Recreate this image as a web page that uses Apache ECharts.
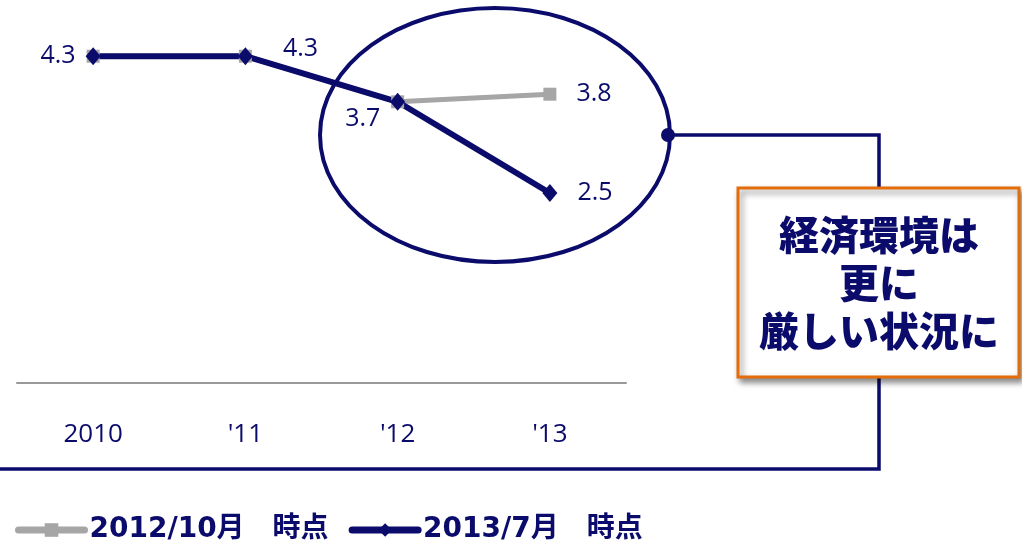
<!DOCTYPE html>
<html><head><meta charset="utf-8">
<script src="https://cdn.jsdelivr.net/npm/echarts@6/dist/echarts.min.js"></script>
<style>html,body{margin:0;padding:0;background:#fff}#c{width:1022px;height:553px}</style>
</head><body><div id="c"></div>
<script>
var categories = ['2010', "'11", "'12", "'13"];
var seriesOct2012 = [4.3, 4.3, 3.7, 3.8];
var seriesJul2013 = [4.3, 4.3, 3.7, 2.5];
var seriesNames = ['2012/10月\u3000時点', '2013/7月\u3000時点'];
var calloutLines = ['経済環境は', '更に', '厳しい状況に'];

var NAVY = '#0B0B6B';
var GREY = '#A6A6A6';
var labelPos = [
  {position: 'left', distance: 10},
  {position: [45, -11]},
  {position: [-45, 14]},
  {position: 'right', distance: 20}
];

var chart = echarts.init(document.getElementById('c'));
chart.setOption({
  animation: false,
  grid: {left: 17, right: 396, top: 3, bottom: 170},
  xAxis: {
    type: 'category', data: categories, boundaryGap: true,
    axisLine: {lineStyle: {color: '#999999', width: 2}},
    axisTick: {show: false},
    axisLabel: {color: NAVY, fontSize: 26, fontFamily: 'Open Sans', margin: 39}
  },
  yAxis: {type: 'value', min: 0, max: 5, show: false, splitLine: {show: false}},
  legend: {
    left: 15, top: 516, padding: 0, itemWidth: 66, itemHeight: 17, itemGap: 20,
    lineStyle: {width: 7, cap: 'round'},
    textStyle: {color: NAVY, fontSize: 28, fontWeight: 'bold', fontFamily: '"DejaVu Sans", "Noto Sans CJK JP"'},
    data: seriesNames
  },
  series: [
    {
      name: seriesNames[0], type: 'line', data: seriesOct2012.map(function (v, i) {
        return {value: v, label: {show: i === 3}};
      }),
      symbol: 'rect', symbolSize: 13,
      lineStyle: {color: GREY, width: 5}, itemStyle: {color: GREY},
      label: {show: true, position: 'right', distance: 20, color: NAVY, fontSize: 25, fontFamily: 'Open Sans'}
    },
    {
      name: seriesNames[1], type: 'line', data: seriesJul2013.map(function (v, i) {
        return {value: v, label: labelPos[i]};
      }),
      symbol: 'diamond', symbolSize: [15, 18],
      lineStyle: {color: NAVY, width: 6}, itemStyle: {color: NAVY},
      label: {show: true, color: NAVY, fontSize: 25, fontFamily: 'Open Sans'}
    }
  ],
  graphic: [
    {type: 'ellipse', shape: {cx: 495, cy: 135, rx: 175, ry: 127}, style: {fill: null, stroke: NAVY, lineWidth: 4}, z: 10},
    {type: 'polyline', shape: {points: [[668, 135], [879, 135], [879, 190]]}, style: {fill: null, stroke: NAVY, lineWidth: 3.5}, z: 10},
    {type: 'polyline', shape: {points: [[879, 376], [879, 469], [-5, 469]]}, style: {fill: null, stroke: NAVY, lineWidth: 3.5}, z: 10},
    {type: 'circle', shape: {cx: 668, cy: 135, r: 7}, style: {fill: NAVY}, z: 11},
    {type: 'rect', shape: {x: 738, y: 188, width: 281, height: 189},
      style: {fill: '#fff', stroke: '#E46C0A', lineWidth: 3, shadowBlur: 6, shadowOffsetX: 3, shadowOffsetY: 4, shadowColor: 'rgba(0,0,0,0.45)'}, z: 12},
    {type: 'text', x: 879, y: 283, z: 13,
      style: {text: calloutLines.join('\n'), fill: NAVY, font: '900 40px "Noto Sans CJK JP"', align: 'center', verticalAlign: 'middle', lineHeight: 48}}
  ]
});
</script></body></html>
